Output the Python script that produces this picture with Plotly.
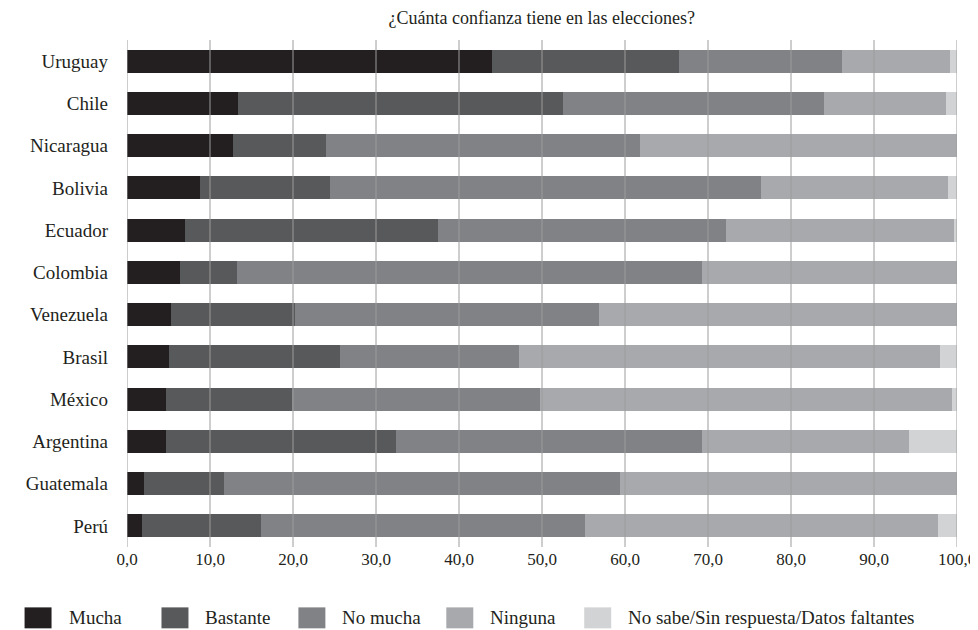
import plotly.graph_objects as go

# data (percentages, each row sums to 100)
paises = ["Uruguay", "Chile", "Nicaragua", "Bolivia", "Ecuador", "Colombia",
          "Venezuela", "Brasil", "México", "Argentina", "Guatemala", "Perú"]

mucha = [44.0, 13.4, 12.8, 8.8, 7.0, 6.4, 5.3, 5.0, 4.7, 4.7, 2.0, 1.8]
bastante = [22.5, 39.1, 11.2, 15.7, 30.5, 6.8, 15.0, 20.7, 15.2, 27.7, 9.7, 14.4]
no_mucha = [19.6, 31.5, 37.8, 51.9, 34.7, 56.1, 36.6, 21.5, 29.8, 36.9, 47.7, 39.0]
ninguna = [13.1, 14.7, 38.2, 22.5, 27.4, 30.7, 43.1, 50.7, 49.7, 24.9, 40.6, 42.5]
no_sabe = [0.8, 1.3, 0.0, 1.1, 0.4, 0.0, 0.0, 2.1, 0.6, 5.8, 0.0, 2.3]

nombres = ["Mucha", "Bastante", "No mucha", "Ninguna",
           "No sabe/Sin respuesta/Datos faltantes"]
colores = ["#231f20", "#58595b", "#808285", "#a7a9ac", "#d1d3d4"]

tick_vals = [0, 10, 20, 30, 40, 50, 60, 70, 80, 90, 100]
tick_text = ["0,0", "10,0", "20,0", "30,0", "40,0", "50,0",
             "60,0", "70,0", "80,0", "90,0", "100,0"]

titulo = "¿Cuánta confianza tiene en las elecciones?"

FONT = "Liberation Serif"
OFF = 8  # default body margin of the html page
W, H = 978 - OFF, 630 - OFF
# plot area in page pixels: x 126.5..957, y 39.5..547.5
L, R, T, B = 126.5 - OFF, 978 - 957, 39.5 - OFF, 630 - 547.5
PW = W - L - R
PH = H - T - B


def px_x(px):
    return (px - OFF - L) / PW


def px_y(py):
    return (H - B - (py - OFF)) / PH


fig = go.Figure()
series = [mucha, bastante, no_mucha, ninguna, no_sabe]
for nombre, vals, color in zip(nombres, series, colores):
    fig.add_trace(
        go.Bar(
            y=paises,
            x=vals,
            name=nombre,
            orientation="h",
            marker=dict(color=color, line=dict(width=0)),
            showlegend=False,
        )
    )

# vertical gridlines drawn above the bars, like the original
for v in tick_vals:
    fig.add_shape(
        type="line", xref="x", yref="paper",
        x0=v, x1=v, y0=0, y1=1,
        line=dict(color="#9c9c9c", width=1),
        layer="above",
    )

# hand-made legend along the bottom
sq_left = [24, 161, 298, 446, 584]
for nombre, color, x0 in zip(nombres, colores, sq_left):
    fig.add_shape(
        type="rect", xref="paper", yref="paper",
        x0=px_x(x0), x1=px_x(x0 + 27),
        y0=px_y(629), y1=px_y(608),
        fillcolor=color, line=dict(width=0),
    )
    fig.add_annotation(
        text=nombre, xref="paper", yref="paper",
        x=px_x(x0 + 42), y=px_y(618),
        xanchor="left", yanchor="middle", showarrow=False,
        font=dict(family=FONT, size=19, color="#231f20"),
    )

fig.update_layout(
    width=W, height=H,
    margin=dict(l=L, r=R, t=T, b=B, autoexpand=False),
    paper_bgcolor="white",
    plot_bgcolor="white",
    barmode="stack",
    bargap=0.46,
    font=dict(family=FONT, size=18, color="#231f20"),
    title=dict(text=titulo, x=(L + PW / 2) / W, xanchor="center",
               y=1 - (18 - OFF) / H, yanchor="middle",
               font=dict(family=FONT, size=18, color="#231f20")),
    xaxis=dict(
        range=[0, 100],
        tickvals=tick_vals,
        ticktext=tick_text,
        showgrid=False,
        zeroline=False,
        showline=False,
        ticks="",
        automargin=False,
        tickfont=dict(family=FONT, size=17),
    ),
    yaxis=dict(
        categoryorder="array",
        categoryarray=paises,
        autorange="reversed",
        showgrid=False,
        ticks="",
        automargin=False,
        ticklabelstandoff=18,
        tickfont=dict(family=FONT, size=19),
    ),
)

fig.write_html("out.html")
